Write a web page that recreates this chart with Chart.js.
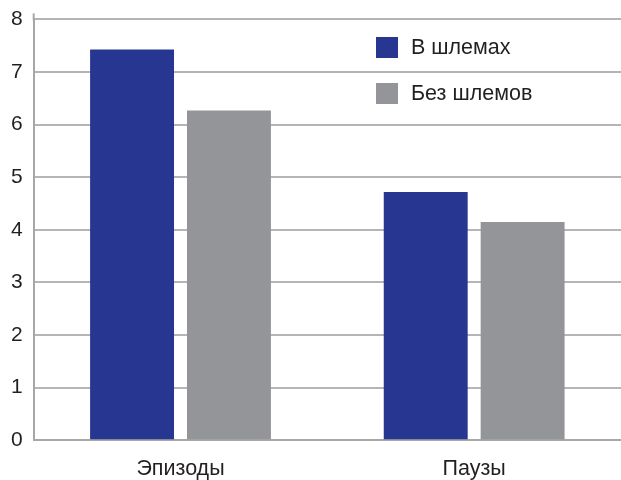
<!DOCTYPE html>
<html>
<head>
<meta charset="utf-8">
<script src="https://cdn.jsdelivr.net/npm/chart.js@4.4.1/dist/chart.umd.min.js"></script>
<style>
  html, body { margin: 0; padding: 0; background: #fff; }
  #wrap { width: 621px; height: 480px; position: relative; }
</style>
</head>
<body>
<div id="wrap"><canvas id="chart"></canvas></div>
<script>
// data
const categories = ['Эпизоды', 'Паузы'];
const withHelmets = [7.43, 4.72];
const withoutHelmets = [6.27, 4.15];
const seriesNames = ['В шлемах', 'Без шлемов'];
const yTicks = [0, 1, 2, 3, 4, 5, 6, 7, 8];

const BLUE = '#263691';
const GREY = '#939598';
const AXIS = '#a7a7a7';
const FONT = "'Liberation Sans', Arial, sans-serif";

// legend sits inside the plot, top right; also the small stub of the y axis above 8
const boxLegend = {
    id: 'boxLegend',
    afterDraw(chart) {
        const ctx = chart.ctx;
        const area = chart.chartArea;
        ctx.save();
        ctx.strokeStyle = AXIS; ctx.lineWidth = 2;
        ctx.beginPath();
        ctx.moveTo(area.left, area.top - 6);
        ctx.lineTo(area.left, area.top + 1);
        ctx.stroke();

        ctx.font = '21.5px ' + FONT;
        ctx.textBaseline = 'middle';
        chart.data.datasets.forEach((ds, i) => {
            const y = 37 + i * 46;
            ctx.fillStyle = ds.backgroundColor;
            ctx.fillRect(376, y, 22, 21);
            ctx.fillStyle = '#231f20';
            ctx.fillText(ds.label, 411, y + 11);
        });
        ctx.restore();
    }
};

new Chart(document.getElementById('chart'), {
    type: 'bar',
    data: {
        labels: categories,
        datasets: [
            { label: seriesNames[0], data: withHelmets, backgroundColor: BLUE },
            { label: seriesNames[1], data: withoutHelmets, backgroundColor: GREY }
        ]
    },
    options: {
        responsive: true, maintainAspectRatio: false, animation: false,
        layout: { padding: { top: 0, right: 0, left: 0, bottom: -18 } },
        datasets: { bar: { categoryPercentage: 0.66, barPercentage: 0.866 } },
        plugins: { legend: { display: false }, tooltip: { enabled: false } },
        scales: {
            x: {
                grid: { display: false, drawTicks: false },
                border: { color: AXIS, width: 2 },
                ticks: { color: '#231f20', font: { family: FONT, size: 21.5 }, padding: 16 }
            },
            y: {
                min: 0, max: 8,
                afterBuildTicks: (axis) => { axis.ticks = yTicks.map(v => ({ value: v })); },
                grid: { color: '#b5b5b5', lineWidth: 2, drawTicks: false },
                border: { color: AXIS, width: 2 },
                ticks: { color: '#231f20', font: { family: FONT, size: 21, lineHeight: 0.8 }, padding: 11 }
            }
        }
    },
    plugins: [boxLegend]
});
</script>
</body>
</html>
